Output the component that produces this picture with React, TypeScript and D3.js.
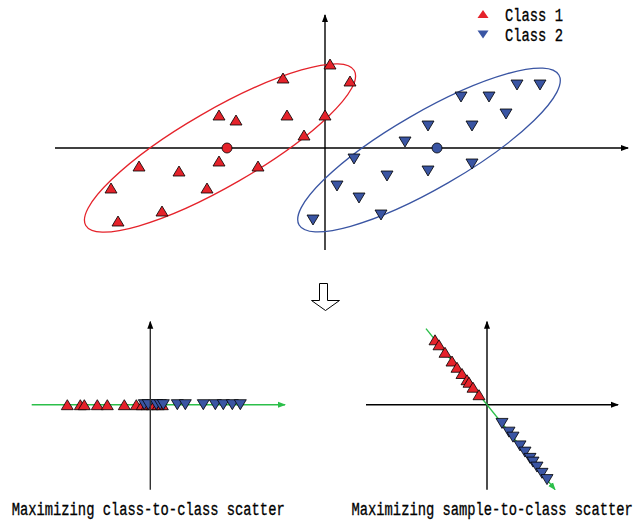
import React from "react";
import * as d3 from "d3";

// top panel: original 2-D samples (x, y)
const class1Points: [number, number][] = [
  [0.5, 8.4], [-4.2, 7.0], [-10.6, 3.3], [-8.9, 2.8], [-3.8, 3.3], [0.0, 3.3],
  [-2.1, 1.3], [-10.6, -1.3], [-18.6, -1.8], [-14.6, -2.3], [-6.7, -1.8],
  [-21.4, -4.0], [-11.8, -4.0], [-16.3, -6.3], [-20.7, -7.3], [2.5, 6.7],
];
const class2Points: [number, number][] = [
  [19.2, 6.3], [21.5, 6.3], [13.6, 5.1], [16.4, 5.1], [18.1, 3.4], [10.3, 2.2],
  [14.7, 2.2], [8.0, 0.6], [2.9, -1.1], [10.3, -2.3], [14.7, -1.6], [6.2, -2.8],
  [1.2, -3.8], [3.4, -5.0], [5.6, -6.7], [-1.2, -7.2],
];
const class1Mean: [number, number] = [-9.8, 0];
const class2Mean: [number, number] = [11.2, 0];

// ellipses: center x, center y, semi-major, semi-minor, angle (deg)
const class1Ellipse = [-10.5, 0, 15.5, 3.8, 30];
const class2Ellipse = [10.4, -0.2, 15.0, 3.8, 30];

// bottom-left: projections on the class-to-class direction
const class1ProjA = [-8.3, -7.0, -6.6, -5.3, -4.3, -2.6, -1.4, -0.8, -0.3, 0.2, 0.8, 1.2];
const class2ProjA = [-0.6, -0.2, 0.6, 1.0, 1.3, 2.7, 3.5, 5.3, 6.5, 7.3, 8.2, 9.0];

// bottom-right: projections on the sample-to-class direction (x component)
const projSlope = -1.248;
const class1ProjB = [-5.2, -4.8, -4.2, -3.5, -3.0, -2.5, -2.0, -1.8, -1.4, -0.8];
const class2ProjB = [1.5, 2.2, 2.6, 3.3, 3.8, 4.3, 4.6, 5.0, 5.5, 6.0];
const projLineB = [-6.1, 6.8];

const legendItems = ["Class 1", "Class 2"];
const captions = ["Maximizing class-to-class scatter", "Maximizing sample-to-class scatter"];

const RED = "#e5232b";
const BLUE = "#3a55a3";
const GREEN = "#2cbf4a";
const FONT = "'Liberation Mono', monospace";

const up = "M0,-5L6,5L-6,5Z";
const down = "M0,5L6,-5L-6,-5Z";

const Label: React.FC<{ x: number; y: number; text: string }> = ({ x, y, text }) => (
  <g transform={`translate(${x},${y}) scale(1,1.35)`}>
    <text x={0} y={0} fontFamily={FONT} fontSize={13.8} fill="#000" stroke="#000" strokeWidth={0.25}>
      {text}
    </text>
  </g>
);

const App: React.FC = () => {
  const xTop = d3.scaleLinear().domain([-27, 30.3]).range([55, 628]);
  const yTop = d3.scaleLinear().domain([-10.2, 13.3]).range([250, 15]);

  const xBL = d3.scaleLinear().domain([-11.86, 13.47]).range([31.7, 285]);
  const yBL = d3.scaleLinear().domain([-8.5, 8.3]).range([489.7, 321.7]);

  const xBR = d3.scaleLinear().domain([-12.1, 13.1]).range([366, 618]);
  const yBR = yBL;

  const ellipse = (e: number[], color: string) => {
    const cx = xTop(e[0]);
    const cy = yTop(e[1]);
    return (
      <ellipse
        cx={cx}
        cy={cy}
        rx={xTop(e[2]) - xTop(0)}
        ry={xTop(e[3]) - xTop(0)}
        transform={`rotate(${-e[4]},${cx},${cy})`}
        fill="none"
        stroke={color}
        strokeWidth={1.3}
      />
    );
  };

  return (
    <svg
      width={638}
      height={521}
      style={{ position: "absolute", left: 0, top: 0, background: "#fff" }}
    >
      <defs>
        <marker id="ab" viewBox="0 0 8 8" refX={7} refY={4} markerWidth={8} markerHeight={8} markerUnits="userSpaceOnUse" orient="auto">
          <path d="M0,1L8,4L0,7Z" fill="#000" />
        </marker>
        <marker id="ag" viewBox="0 0 8 8" refX={7} refY={4} markerWidth={8} markerHeight={8} markerUnits="userSpaceOnUse" orient="auto">
          <path d="M0,1L8,4L0,7Z" fill={GREEN} />
        </marker>
      </defs>

      {/* top panel axes */}
      <line x1={xTop(-27)} x2={xTop(30.3)} y1={yTop(0)} y2={yTop(0)} stroke="#000" strokeWidth={1.4} markerEnd="url(#ab)" />
      <line x1={xTop(0)} x2={xTop(0)} y1={yTop(-10.2)} y2={yTop(13.3)} stroke="#000" strokeWidth={1.4} markerEnd="url(#ab)" />

      {ellipse(class1Ellipse, RED)}
      {ellipse(class2Ellipse, BLUE)}

      {class1Points.map((p, i) => (
        <path key={`r${i}`} d={up} transform={`translate(${xTop(p[0])},${yTop(p[1])})`} fill={RED} stroke="#000" strokeWidth={0.8} />
      ))}
      {class2Points.map((p, i) => (
        <path key={`b${i}`} d={down} transform={`translate(${xTop(p[0])},${yTop(p[1])})`} fill={BLUE} stroke="#000" strokeWidth={0.8} />
      ))}
      <circle cx={xTop(class1Mean[0])} cy={yTop(class1Mean[1])} r={5} fill={RED} stroke="#000" strokeWidth={0.8} />
      <circle cx={xTop(class2Mean[0])} cy={yTop(class2Mean[1])} r={5} fill={BLUE} stroke="#000" strokeWidth={0.8} />

      {/* legend */}
      {legendItems.map((t, i) => (
        <g key={t}>
          <path
            d={i === 0 ? "M0,-4L5.5,4L-5.5,4Z" : "M0,4L5.5,-4L-5.5,-4Z"}
            transform={`translate(483,${14 + i * 20.5})`}
            fill={i === 0 ? RED : BLUE}
          />
          <Label x={505} y={20.5 + i * 20.5} text={t} />
        </g>
      ))}

      {/* hollow down arrow */}
      <path d="M319.5,283.5H327.5V300.5H339.5L325.5,310.5L311.5,300.5H319.5Z" fill="#fff" stroke="#000" strokeWidth={1} />

      {/* bottom-left panel */}
      <line x1={xBL(-11.86)} x2={xBL(13.47)} y1={yBL(0)} y2={yBL(0)} stroke={GREEN} strokeWidth={1.4} markerEnd="url(#ag)" />
      {class1ProjA.map((v, i) => (
        <path key={`ra${i}`} d={up} transform={`translate(${xBL(v)},${yBL(0)})`} fill={RED} stroke="#000" strokeWidth={0.8} />
      ))}
      {class2ProjA.map((v, i) => (
        <path key={`ba${i}`} d={down} transform={`translate(${xBL(v)},${yBL(0)})`} fill={BLUE} stroke="#000" strokeWidth={0.8} />
      ))}
      <line x1={xBL(0)} x2={xBL(0)} y1={yBL(-8.5)} y2={yBL(8.3)} stroke="#333" strokeWidth={1.4} markerEnd="url(#ab)" />

      {/* bottom-right panel */}
      <line x1={xBR(-12.1)} x2={xBR(13.1)} y1={yBR(0)} y2={yBR(0)} stroke="#000" strokeWidth={1.4} markerEnd="url(#ab)" />
      <line x1={xBR(0)} x2={xBR(0)} y1={yBR(-8.5)} y2={yBR(8.3)} stroke="#000" strokeWidth={1.4} markerEnd="url(#ab)" />
      <line
        x1={xBR(projLineB[0])}
        y1={yBR(projSlope * projLineB[0])}
        x2={xBR(projLineB[1])}
        y2={yBR(projSlope * projLineB[1])}
        stroke={GREEN}
        strokeWidth={1.4}
        markerEnd="url(#ag)"
      />
      {class1ProjB.map((v, i) => (
        <path key={`rb${i}`} d={up} transform={`translate(${xBR(v)},${yBR(projSlope * v)})`} fill={RED} stroke="#000" strokeWidth={0.8} />
      ))}
      {class2ProjB.map((v, i) => (
        <path key={`bb${i}`} d={down} transform={`translate(${xBR(v)},${yBR(projSlope * v)})`} fill={BLUE} stroke="#000" strokeWidth={0.8} />
      ))}

      {/* captions */}
      <Label x={11.7} y={515} text={captions[0]} />
      <Label x={351.5} y={515} text={captions[1]} />
    </svg>
  );
};

export default App;
